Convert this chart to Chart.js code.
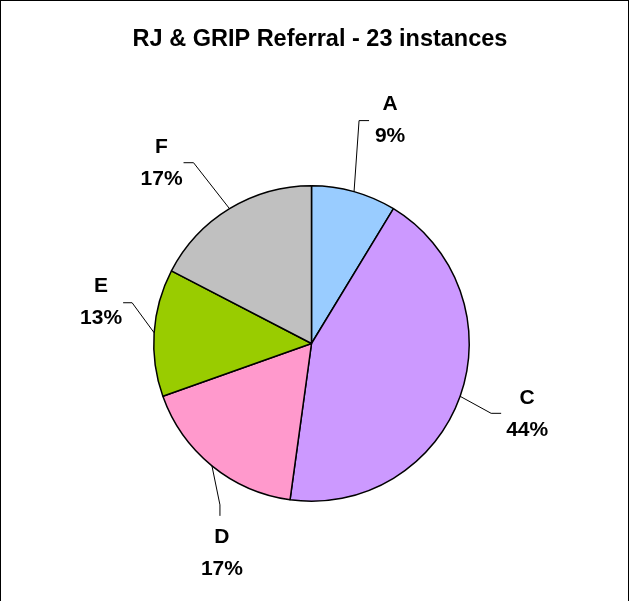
<!DOCTYPE html>
<html>
<head>
<meta charset="utf-8">
<title>RJ & GRIP Referral</title>
<script src="https://cdn.jsdelivr.net/npm/chart.js@4/dist/chart.umd.min.js"></script>
<style>
	html, body { margin: 0; padding: 0; background: #fff; }
	#wrap { width: 632px; height: 601px; }
</style>
</head>
<body>
<div id="wrap"><canvas id="referral_pie" width="632" height="601"></canvas></div>
<script>
const TITLE = "RJ & GRIP Referral - 23 instances";
const categories = ["A", "C", "D", "E", "F"];
const instances = [2, 10, 4, 3, 4];
const percentLabels = ["9%", "44%", "17%", "13%", "17%"];
const sliceColors = ["#99ccff", "#cc99ff", "#ff99cc", "#99cc00", "#c0c0c0"];

// hand placed callouts, offsets from the point where the leader leaves the slice
const callouts = [
	{ elbow: [5, -71], end: [15, -71], text: [36, -71] },
	{ elbow: [31, 17], end: [41, 17], text: [67, 18] },
	{ elbow: [8, 39], end: [8, 50], text: [10, 87] },
	{ elbow: [-22, -30], end: [-31, -30], text: [-53, -31] },
	{ elbow: [-36, -46], end: [-46, -46], text: [-68, -46] },
];

const FONT = "'Liberation Sans', Arial, sans-serif";

const frame = {
	id: "frame",
	beforeDraw(chart) {
		const ctx = chart.ctx;
		ctx.save();
		ctx.fillStyle = "#fff";
		ctx.fillRect(0, 0, chart.width, chart.height);
		ctx.strokeStyle = "#000";
		ctx.lineWidth = 1;
		ctx.strokeRect(0.5, 0.5, 628, chart.height + 10);
		// title
		ctx.fillStyle = "#000";
		ctx.font = "bold 23.5px " + FONT;
		ctx.textAlign = "center";
		ctx.textBaseline = "alphabetic";
		ctx.fillText(TITLE, 320, 46);
		ctx.restore();
	}
};

const leaderLabels = {
	id: "leaderLabels",
	afterDatasetsDraw(chart) {
		const ctx = chart.ctx;
		const arcs = chart.getDatasetMeta(0).data;
		ctx.save();
		ctx.strokeStyle = "#000";
		ctx.lineWidth = 1;
		ctx.fillStyle = "#000";
		ctx.font = "bold 21px " + FONT;
		ctx.textAlign = "center";
		ctx.textBaseline = "middle";
		arcs.forEach((arc, i) => {
			const mid = (arc.startAngle + arc.endAngle) / 2;
			const x0 = arc.x + Math.cos(mid) * arc.outerRadius;
			const y0 = arc.y + Math.sin(mid) * arc.outerRadius;
			const c = callouts[i];
			ctx.beginPath();
			ctx.moveTo(x0, y0);
			ctx.lineTo(x0 + c.elbow[0], y0 + c.elbow[1]);
			ctx.lineTo(x0 + c.end[0], y0 + c.end[1]);
			ctx.stroke();
			const tx = x0 + c.text[0];
			const ty = y0 + c.text[1];
			ctx.fillText(categories[i], tx, ty - 16);
			ctx.fillText(percentLabels[i], tx, ty + 16);
		});
		ctx.restore();
	}
};

new Chart(document.getElementById("referral_pie"), {
	type: "pie",
	data: {
		labels: categories,
		datasets: [{
			data: instances,
			backgroundColor: sliceColors,
			borderColor: "#000",
			borderWidth: 1.5,
		}]
	},
	options: {
		responsive: false,
		animation: false,
		layout: { padding: { left: 153, right: 162, top: 185, bottom: 99 } },
		plugins: {
			legend: { display: false },
			tooltip: { enabled: false },
			title: { display: false }
		}
	},
	plugins: [frame, leaderLabels]
});
</script>
</body>
</html>
